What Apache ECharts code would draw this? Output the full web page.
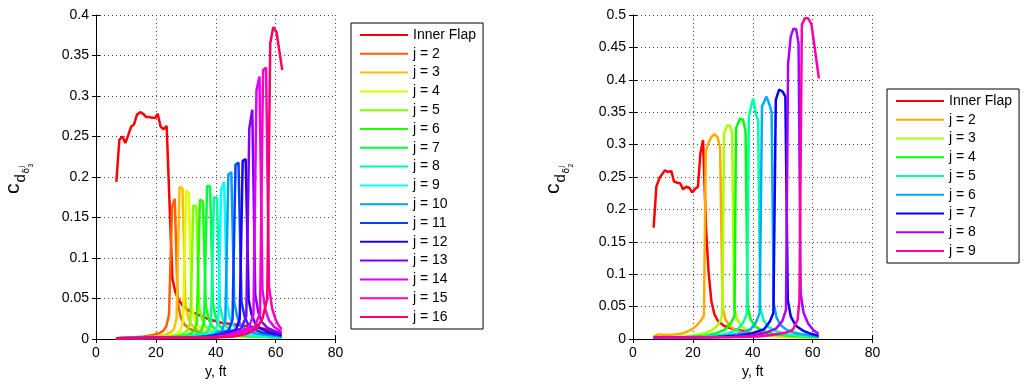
<!DOCTYPE html>
<html><head><meta charset="utf-8">
<script src="https://cdn.jsdelivr.net/npm/echarts@6/dist/echarts.min.js"></script>
<style>
html,body{margin:0;padding:0;background:#fff;width:1024px;height:385px;overflow:hidden}
#a{position:absolute;left:0;top:0;width:512px;height:385px}
#b{position:absolute;left:512px;top:0;width:512px;height:385px}
</style>
</head><body><div id="a"></div><div id="b"></div>
<script>
// ---------- LEFT PLOT DATA: [y (ft), c_d] ----------
const leftInner = [[6.8,0.194],[7.8,0.246],[8.8,0.250],[9.8,0.242],[10.8,0.252],[11.7,0.262],[12.7,0.265],[13.7,0.277],[14.8,0.280],[15.8,0.278],[16.8,0.274],[17.8,0.274],[18.8,0.273],[19.8,0.273],[20.6,0.278],[21.6,0.262],[22.6,0.259],[23.6,0.263],[25.5,0.075],[26.5,0.058],[27.5,0.049],[29,0.041],[31,0.035],[34,0.030],[38,0.024],[42,0.020],[46,0.018],[50,0.016],[54,0.014],[57,0.012],[60,0.009],[62,0.007]];
const leftJ2 = [[6.8,0.001],[12,0.002],[16,0.003],[19,0.005],[21,0.007],[22.5,0.010],[23.5,0.016],[24.4,0.030],[25.4,0.163],[26.3,0.173],[27.3,0.045],[28.3,0.027],[29.5,0.018],[31.5,0.012],[35,0.008],[40,0.005],[48,0.004],[62,0.002]];
const leftJ3 = [[6.8,0.001],[15,0.002],[20,0.003],[23,0.005],[25,0.008],[26,0.012],[26.9,0.025],[27.9,0.188],[28.9,0.186],[29.9,0.042],[30.9,0.025],[32,0.017],[34,0.011],[37,0.007],[42,0.005],[50,0.003],[62,0.002]];
const leftJ4 = [[6.8,0.001],[18,0.002],[23,0.003],[26,0.005],[28,0.009],[29.1,0.022],[30.1,0.184],[31.0,0.180],[32.0,0.040],[33.0,0.024],[34.2,0.016],[36,0.011],[39,0.007],[44,0.004],[52,0.003],[62,0.002]];
const leftJ5 = [[6.8,0.001],[20,0.002],[25,0.003],[28,0.005],[30.3,0.009],[31.5,0.020],[32.5,0.165],[33.5,0.164],[34.5,0.038],[35.5,0.023],[36.7,0.015],[38.5,0.010],[41.5,0.006],[46,0.004],[54,0.003],[62,0.002]];
const leftJ6 = [[6.8,0.001],[22,0.002],[27,0.003],[30.5,0.005],[32.6,0.009],[33.7,0.020],[34.7,0.172],[35.7,0.170],[36.7,0.040],[37.7,0.024],[38.9,0.015],[40.7,0.010],[43.7,0.006],[48,0.004],[55,0.003],[62,0.002]];
const leftJ7 = [[6.8,0.001],[24,0.002],[29,0.003],[33,0.005],[35,0.009],[36.1,0.020],[37.1,0.189],[38.1,0.189],[39.1,0.042],[40.1,0.025],[41.3,0.016],[43,0.010],[46,0.006],[50,0.004],[56,0.003],[62,0.002]];
const leftJ8 = [[6.8,0.001],[26,0.002],[31,0.003],[35,0.005],[37.3,0.009],[38.4,0.020],[39.4,0.175],[40.4,0.174],[41.4,0.040],[42.4,0.024],[43.6,0.015],[45.4,0.010],[48.4,0.006],[53,0.004],[62,0.002]];
const leftJ9 = [[6.8,0.001],[28,0.002],[33,0.003],[37,0.005],[39.7,0.009],[40.8,0.020],[41.8,0.184],[42.8,0.194],[43.8,0.042],[44.8,0.025],[46,0.016],[47.8,0.010],[50.8,0.006],[55,0.004],[62,0.003]];
const leftJ10 = [[6.8,0.001],[30,0.002],[35,0.003],[39,0.005],[42,0.010],[43.2,0.022],[44.2,0.203],[45.2,0.206],[46.2,0.045],[47.2,0.027],[48.4,0.017],[50.2,0.011],[53.2,0.007],[57,0.005],[62,0.003]];
const leftJ11 = [[6.8,0.001],[32,0.002],[37,0.003],[41,0.006],[44.4,0.011],[45.6,0.024],[46.6,0.215],[47.6,0.218],[48.6,0.046],[49.6,0.028],[50.8,0.018],[52.6,0.012],[55.6,0.008],[62,0.004]];
const leftJ12 = [[6.8,0.001],[34,0.002],[39,0.003],[43,0.006],[46.8,0.012],[48,0.025],[49,0.220],[50,0.222],[51,0.048],[52,0.030],[53.2,0.019],[55,0.013],[58,0.008],[62,0.005]];
const leftJ13 = [[6.8,0.001],[36,0.002],[41,0.004],[45,0.007],[48.5,0.013],[50.2,0.028],[51.2,0.260],[52.2,0.283],[53.2,0.055],[54.2,0.033],[55.4,0.021],[57.2,0.014],[60,0.009],[62,0.007]];
const leftJ14 = [[6.8,0.001],[38,0.002],[43,0.004],[47,0.007],[51,0.014],[52.6,0.030],[53.6,0.307],[54.6,0.324],[55.6,0.060],[56.6,0.036],[57.8,0.023],[59.5,0.015],[62,0.009]];
const leftJ15 = [[6.8,0.001],[40,0.002],[45,0.004],[49,0.008],[53,0.015],[54.8,0.032],[55.8,0.332],[56.8,0.335],[57.8,0.065],[58.8,0.038],[60,0.024],[61,0.017],[62,0.012]];
const leftJ16 = [[6.8,0.001],[40,0.002],[46,0.003],[50,0.006],[53.5,0.012],[55.6,0.025],[57.2,0.050],[58.2,0.365],[59.2,0.385],[60.3,0.379],[62.2,0.332]];

// ---------- RIGHT PLOT DATA ----------
const rightInner = [[6.9,0.172],[7.8,0.235],[8.9,0.249],[10.6,0.260],[11.7,0.258],[12.8,0.259],[13.7,0.243],[14.9,0.241],[15.8,0.240],[16.7,0.231],[17.8,0.235],[18.9,0.233],[19.8,0.226],[20.8,0.232],[21.7,0.235],[22.5,0.286],[23.4,0.307],[24.4,0.170],[25.3,0.100],[26.2,0.058],[27.2,0.038],[28.5,0.027],[30.5,0.020],[33,0.016],[36,0.013],[40,0.010],[45,0.008],[50,0.006],[55,0.005],[62,0.004]];
const rightJ2 = [[6.9,0.004],[8.5,0.007],[11,0.006],[14,0.007],[16,0.008],[18,0.011],[20,0.016],[21.5,0.022],[22.6,0.028],[23.7,0.036],[24.3,0.290],[25.2,0.302],[26.2,0.312],[27.3,0.316],[28.3,0.311],[29.1,0.294],[29.9,0.050],[30.9,0.030],[32.5,0.019],[35,0.012],[39,0.007],[45,0.005],[53,0.003],[62,0.002]];
const rightJ3 = [[6.9,0.002],[14,0.003],[20,0.005],[24,0.009],[26.5,0.014],[28.5,0.022],[29.8,0.035],[30.4,0.317],[31.5,0.330],[32.4,0.329],[33.1,0.318],[33.8,0.050],[34.8,0.030],[36.4,0.019],[39,0.012],[43,0.007],[49,0.005],[56,0.003],[62,0.002]];
const rightJ4 = [[6.9,0.002],[18,0.003],[24,0.005],[28,0.009],[30.8,0.015],[32.6,0.024],[33.9,0.035],[34.4,0.325],[35.7,0.340],[36.8,0.338],[37.6,0.320],[38.3,0.050],[39.3,0.030],[40.9,0.019],[43.5,0.012],[47.5,0.007],[53,0.005],[62,0.003]];
const rightJ5 = [[6.9,0.002],[22,0.003],[28,0.005],[32,0.009],[35,0.015],[36.8,0.025],[38.0,0.038],[38.7,0.343],[40.1,0.371],[41.2,0.345],[41.8,0.338],[42.5,0.050],[43.5,0.030],[45.1,0.019],[47.7,0.012],[51.5,0.007],[56,0.005],[62,0.003]];
const rightJ6 = [[6.9,0.002],[25,0.003],[31,0.005],[36,0.009],[39.3,0.015],[41.1,0.026],[42.3,0.040],[43.1,0.359],[44.6,0.374],[45.7,0.360],[46.3,0.350],[47.0,0.055],[48.0,0.032],[49.6,0.020],[52,0.012],[55.5,0.008],[62,0.004]];
const rightJ7 = [[6.9,0.002],[28,0.003],[35,0.005],[40,0.009],[43.8,0.015],[45.7,0.027],[46.9,0.040],[47.7,0.369],[48.8,0.385],[49.9,0.382],[50.9,0.374],[51.7,0.060],[52.7,0.035],[54.3,0.021],[56.7,0.013],[59.5,0.008],[62,0.005]];
const rightJ8 = [[6.9,0.002],[32,0.003],[39,0.005],[44,0.009],[47.8,0.016],[49.9,0.028],[51.1,0.045],[51.8,0.425],[52.7,0.467],[53.6,0.479],[54.5,0.478],[55.3,0.456],[56.0,0.070],[57.0,0.040],[58.5,0.024],[60.2,0.014],[62,0.008]];
const rightJ9 = [[6.9,0.002],[36,0.003],[42,0.004],[46,0.006],[49,0.008],[51.2,0.010],[53.5,0.015],[55.0,0.030],[55.6,0.060],[56.4,0.485],[57.4,0.495],[58.5,0.495],[59.6,0.486],[62.1,0.402]];

const leftNames = ['Inner Flap','j = 2','j = 3','j = 4','j = 5','j = 6','j = 7','j = 8','j = 9','j = 10','j = 11','j = 12','j = 13','j = 14','j = 15','j = 16'];
const rightNames = ['Inner Flap','j = 2','j = 3','j = 4','j = 5','j = 6','j = 7','j = 8','j = 9'];
const leftSeriesData = [leftInner,leftJ2,leftJ3,leftJ4,leftJ5,leftJ6,leftJ7,leftJ8,leftJ9,leftJ10,leftJ11,leftJ12,leftJ13,leftJ14,leftJ15,leftJ16];
const rightSeriesData = [rightInner,rightJ2,rightJ3,rightJ4,rightJ5,rightJ6,rightJ7,rightJ8,rightJ9];
const xTicks = [0,20,40,60,80];

// ---------- STYLES ----------
const leftColors = ['#ff0000','#ff6000','#ffbf00','#dfff00','#80ff00','#20ff00','#00ff40','#00ff9f','#00ffff','#009fff','#0040ff','#2000ff','#8000ff','#df00ff','#ff00bf','#ff0060'];
const rightColors = ['#ff0000','#ffaa00','#aaff00','#00ff00','#00ffaa','#00aaff','#0000ff','#aa00ff','#ff00aa'];
const FONT = '"Liberation Sans", Arial, Helvetica, sans-serif';

function yLabel(x0, y0, subDigit) {
  return {
    type: 'group', x: x0, y: y0, rotation: Math.PI / 2,
    children: [
      { type: 'text', x: 0, y: -4, style: { text: 'c', font: '21px ' + FONT, fill: '#000', verticalAlign: 'middle', align: 'left' } },
      { type: 'text', x: 11.5, y: 3.5, style: { text: 'd', font: '15px ' + FONT, fill: '#000', verticalAlign: 'middle', align: 'left' } },
      { type: 'text', x: 20.5, y: 10, style: { text: 'δ', font: '9px "DejaVu Sans", sans-serif', fill: '#000', verticalAlign: 'middle', align: 'left' } },
      { type: 'text', x: 26.5, y: 4.5, style: { text: 'j', font: '7px ' + FONT, fill: '#000', verticalAlign: 'middle', align: 'left' } },
      { type: 'text', x: 26.5, y: 14, style: { text: subDigit, font: '7px ' + FONT, fill: '#000', verticalAlign: 'middle', align: 'left' } }
    ]
  };
}

function makeOption(cfg) {
  const axisCommon = {
    axisLine: { show: true, onZero: false, lineStyle: { color: '#000', width: 1 } },
    axisTick: { show: true, inside: true, length: 4, lineStyle: { color: '#000' } },
    axisLabel: { color: '#000', fontSize: 14, fontFamily: FONT, margin: 7 },
    splitLine: { show: true, lineStyle: { color: '#444', type: [1, 3], width: 1 } }
  };
  return {
    animation: false,
    backgroundColor: '#fff',
    textStyle: { fontFamily: FONT },
    grid: { left: cfg.gridLeft, top: 15, width: 239.5, height: 324, containLabel: false },
    xAxis: [
      Object.assign({}, axisCommon, {
        type: 'value', min: xTicks[0], max: xTicks[xTicks.length - 1], interval: 20, position: 'bottom',
        name: 'y, ft', nameLocation: 'middle', nameGap: 24,
        nameTextStyle: { color: '#000', fontSize: 14, fontFamily: FONT }
      }),
      {
        type: 'value', min: 0, max: 80, interval: 20, position: 'top',
        axisLine: { show: false }, axisLabel: { show: false }, splitLine: { show: false },
        axisTick: { show: true, inside: true, length: 4, lineStyle: { color: '#000' } }
      }
    ],
    yAxis: [
      Object.assign({}, axisCommon, { type: 'value', min: 0, max: cfg.ymax, interval: 0.05, position: 'left' }),
      {
        type: 'value', min: 0, max: cfg.ymax, interval: 0.05, position: 'right',
        axisLine: { show: false }, axisLabel: { show: false }, splitLine: { show: false },
        axisTick: { show: true, inside: true, length: 4, lineStyle: { color: '#000' } }
      }
    ],
    legend: {
      orient: 'vertical', left: cfg.legendLeft, top: cfg.legendTop,
      icon: 'rect', itemWidth: 48, itemHeight: 2, itemGap: cfg.itemGap,
      padding: [4, 7, 4, 9], borderColor: '#000', borderWidth: 1, backgroundColor: '#fff',
      textStyle: { color: '#000', fontSize: 14, lineHeight: 16, fontFamily: FONT },
      data: cfg.names
    },
    graphic: [cfg.label],
    series: cfg.datas.map((d, i) => ({
      name: cfg.names[i], type: 'line', data: d, xAxisIndex: 0, yAxisIndex: 0,
      symbol: 'none', showSymbol: false, color: cfg.colors[i],
      lineStyle: { width: 2.5, color: cfg.colors[i] }, itemStyle: { color: cfg.colors[i] }
    }))
  };
}

const chartA = echarts.init(document.getElementById('a'), null, { renderer: 'canvas' });
chartA.setOption(makeOption({
  gridLeft: 96, ymax: 0.4, legendLeft: 351, legendTop: 23, itemGap: 2.8,
  names: leftNames, colors: leftColors, datas: leftSeriesData, label: yLabel(17, 194, '3')
}));
const chartB = echarts.init(document.getElementById('b'), null, { renderer: 'canvas' });
chartB.setOption(makeOption({
  gridLeft: 121, ymax: 0.5, legendLeft: 375, legendTop: 89, itemGap: 2.75,
  names: rightNames, colors: rightColors, datas: rightSeriesData, label: yLabel(45, 194, '2')
}));
</script>
</body></html>
